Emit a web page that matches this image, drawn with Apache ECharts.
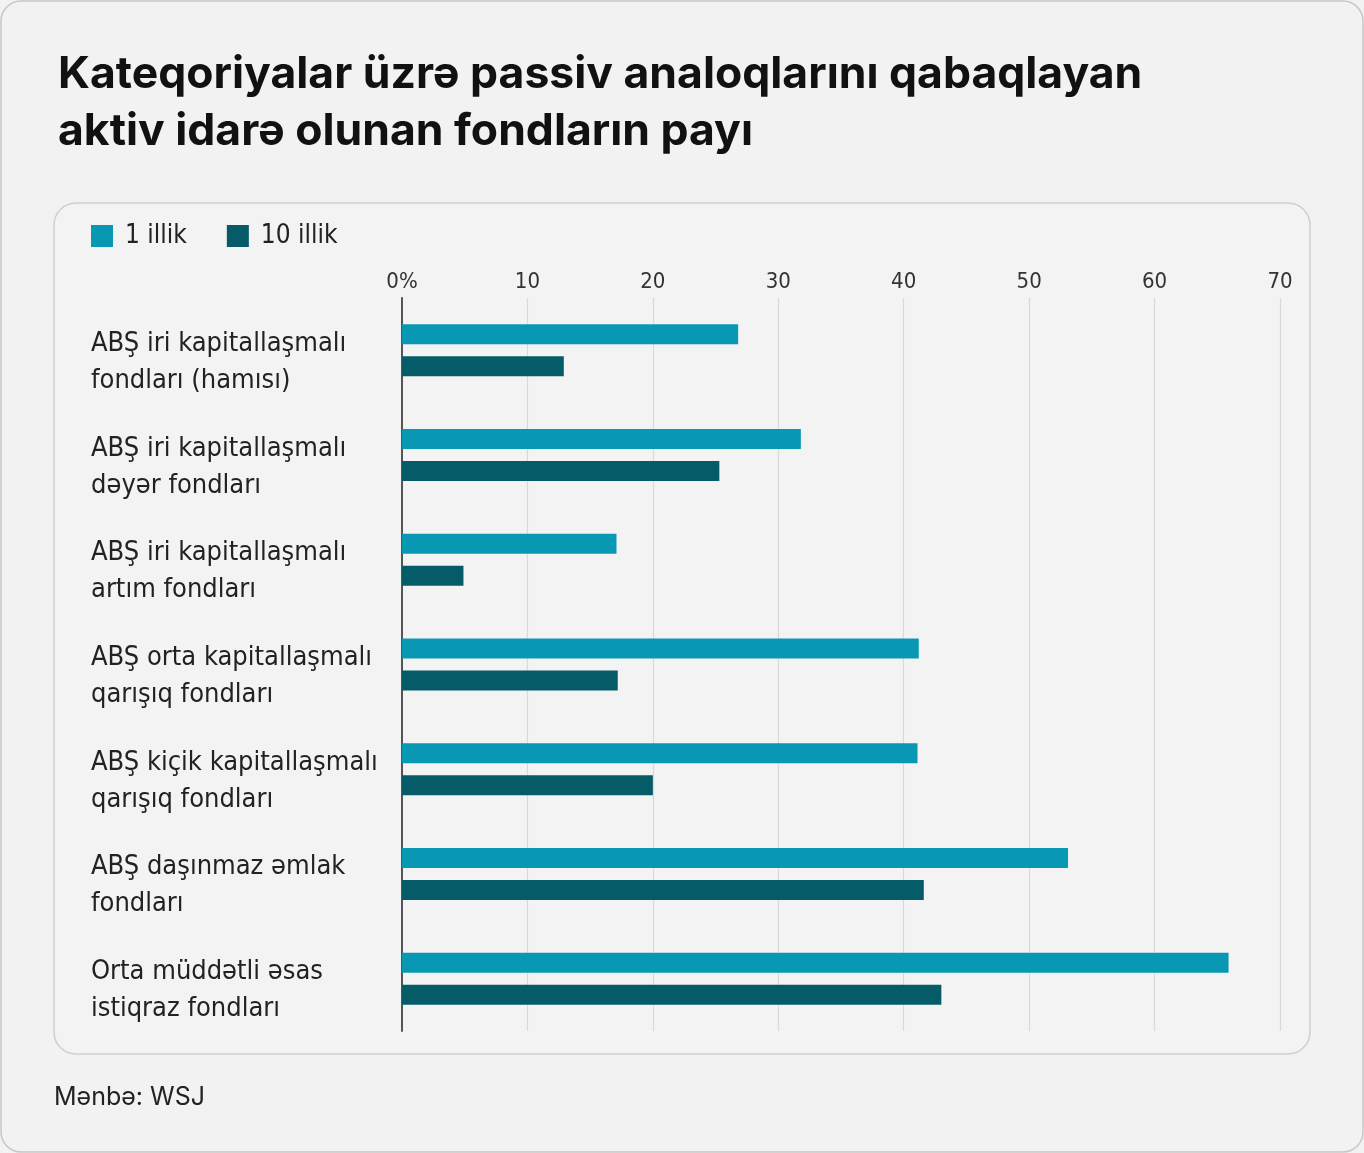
<!DOCTYPE html>
<html>
<head>
<meta charset="utf-8">
<script src="https://cdn.jsdelivr.net/npm/echarts@6/dist/echarts.min.js"></script>
<style>
  html, body { margin: 0; padding: 0; background: #f2f2f2; }
  #chart { width: 1364px; height: 1153px; }
</style>
</head>
<body>
<div id="chart"></div>
<script>
var categories = [
    'ABŞ iri kapitallaşmalı\nfondları (hamısı)',
    'ABŞ iri kapitallaşmalı\ndəyər fondları',
    'ABŞ iri kapitallaşmalı\nartım fondları',
    'ABŞ orta kapitallaşmalı\nqarışıq fondları',
    'ABŞ kiçik kapitallaşmalı\nqarışıq fondları',
    'ABŞ daşınmaz əmlak\nfondları',
    'Orta müddətli əsas\nistiqraz fondları'
];
var oneYear = [26.8, 31.8, 17.1, 41.2, 41.1, 53.1, 65.9];
var tenYear = [12.9, 25.3, 4.9, 17.2, 20.0, 41.6, 43.0];
var seriesNames = ['1 illik', '10 illik'];

var chart = echarts.init(document.getElementById('chart'));

var labelFont = '"DejaVu Sans Condensed", "Liberation Sans Narrow", "Noto Sans", sans-serif';

var option = {
    backgroundColor: '#f2f2f2',
    color: ['#0898b3', '#065b69'],
    title: {
        text: 'Kateqoriyalar üzrə passiv analoqlarını qabaqlayan\naktiv idarə olunan fondların payı',
        left: 53,
        top: 41,
        textStyle: {
            fontFamily: 'Inter, "Noto Sans", sans-serif',
            fontWeight: 'bold',
            fontSize: 44.5,
            lineHeight: 57,
            color: '#111'
        }
    },
    graphic: [
        {
            type: 'rect',
            shape: { x: 1, y: 1, width: 1362, height: 1151, r: 20 },
            style: { fill: 'none', stroke: '#c8c8c8', lineWidth: 1.5 },
            z: -1
        },
        {
            type: 'rect',
            shape: { x: 54, y: 203, width: 1256, height: 851, r: 22 },
            style: { fill: '#f3f3f3', stroke: '#cfcfcf', lineWidth: 1.5 },
            z: -1
        },
        {
            type: 'text',
            left: 54,
            top: 1085,
            style: {
                text: 'Mənbə: WSJ',
                font: '25px Inter, "Noto Sans", sans-serif',
                fill: '#222'
            }
        }
    ],
    legend: {
        left: 91,
        top: 223,
        padding: 0,
        itemWidth: 22,
        itemHeight: 22,
        itemGap: 40,
        icon: 'rect',
        textStyle: {
            fontFamily: labelFont,
            fontSize: 26,
            color: '#222',
            padding: [0, 0, 0, 7]
        },
        data: seriesNames
    },
    grid: {
        left: 402,
        right: 84,
        top: 298,
        bottom: 122
    },
    xAxis: {
        type: 'value',
        position: 'top',
        min: 0,
        max: 70,
        interval: 10,
        axisLine: { show: false },
        axisTick: { show: false },
        splitLine: { lineStyle: { color: '#d9d9d9', width: 1.2 } },
        axisLabel: {
            margin: 5,
            fontFamily: labelFont,
            fontSize: 22,
            color: '#333',
            formatter: function (v) { return v === 0 ? '0%' : String(v); }
        }
    },
    yAxis: {
        type: 'category',
        inverse: true,
        data: categories,
        axisLine: { lineStyle: { color: '#555', width: 2 } },
        axisTick: { show: false },
        axisLabel: {
            interval: 0,
            align: 'left',
            margin: 311,
            formatter: function (v) {
                return '{s| }\n' + v.split('\n').map(function (l) { return '{a|' + l + '}'; }).join('\n');
            },
            rich: {
                s: { fontSize: 10, lineHeight: 24 },
                a: {
                    fontFamily: labelFont,
                    fontSize: 27,
                    lineHeight: 37,
                    color: '#222'
                }
            }
        }
    },
    series: [
        {
            name: seriesNames[0],
            type: 'bar',
            barWidth: 20,
            barGap: '60%',
            data: oneYear
        },
        {
            name: seriesNames[1],
            type: 'bar',
            barWidth: 20,
            barGap: '60%',
            data: tenYear
        }
    ]
};

chart.setOption(option);
</script>
</body>
</html>
